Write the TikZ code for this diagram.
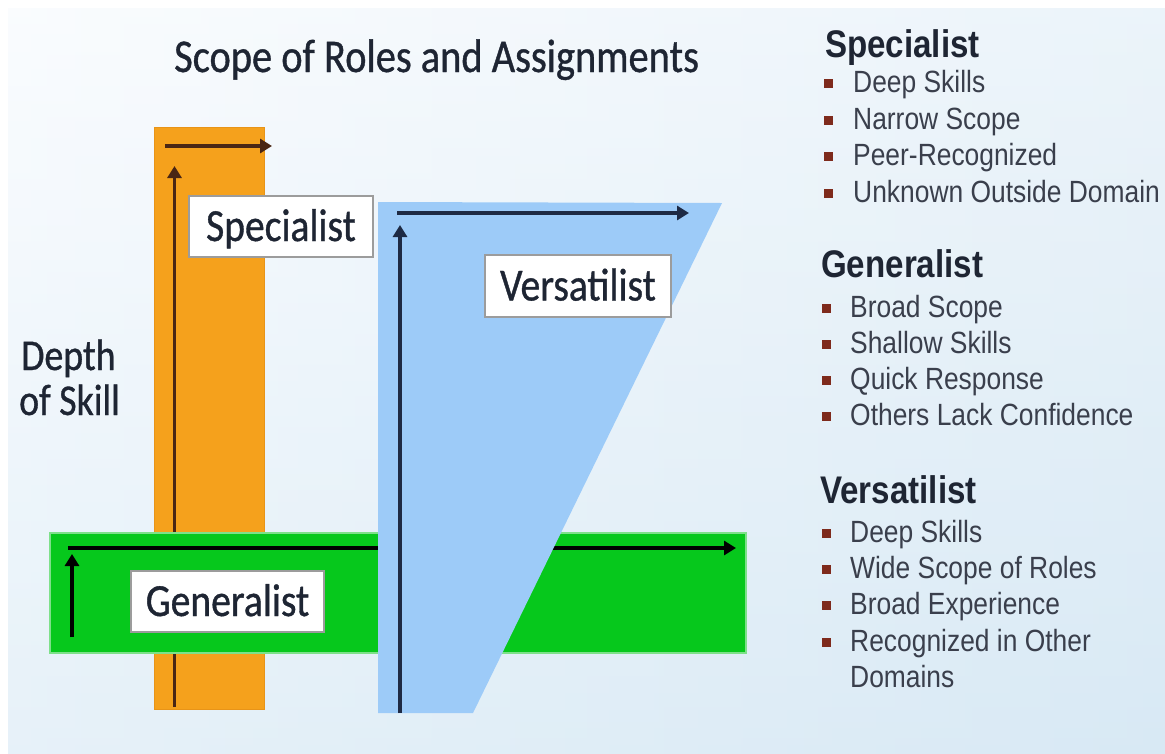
\documentclass[tikz,border=0pt]{standalone}
\usepackage{fontspec}
\usetikzlibrary{arrows.meta}
\newfontfamily\calib[FakeStretch=0.86,FakeBold=0.8]{Carlito}
\newfontfamily\arialn[FakeStretch=0.86]{Liberation Sans}
\definecolor{bgA}{HTML}{F6FAFE}
\definecolor{bgB}{HTML}{D4E7F3}
\definecolor{bgC}{HTML}{DCEBF6}
\definecolor{orangebar}{HTML}{F5A11C}
\definecolor{orangeedge}{HTML}{E89418}
\definecolor{greenbar}{HTML}{06C81C}
\definecolor{greenedge}{HTML}{7EE08A}
\definecolor{bluebar}{HTML}{9DCBF8}
\definecolor{brownarrow}{HTML}{4A2614}
\definecolor{navyarrow}{HTML}{1E2A44}
\definecolor{titletext}{HTML}{1E2533}
\definecolor{itemtext}{HTML}{3A3F4C}
\definecolor{bulletred}{HTML}{7E2A1C}
\definecolor{boxedge}{HTML}{9C9C9C}
\tikzset{
  axisarrow/.style={line width=3.2pt,-{Triangle[length=12pt,width=14pt]}},
  labelbox/.style={draw=boxedge,line width=2.5pt,fill=white,rectangle,inner sep=0pt,
     font=\calib\fontsize{46}{50}\selectfont,text=titletext,text height=29pt,text depth=0pt},
  plainlabel/.style={anchor=base west,inner sep=0pt,font=\calib\fontsize{45}{50}\selectfont,text=titletext},
  heading/.style={anchor=base west,inner sep=0pt,font=\arialn\bfseries\fontsize{38.5}{42}\selectfont,text=titletext},
  item/.style={anchor=base west,inner sep=0pt,font=\arialn\fontsize{30.7}{34}\selectfont,text=itemtext},
  bulletsq/.style={fill=bulletred,minimum size=9pt,inner sep=0pt,rectangle}
}
\begin{document}
\begin{tikzpicture}[x=1pt,y=-1pt]
\useasboundingbox (0,0) rectangle (1165,753);
% background
\fill[white] (0,0) rectangle (1165,753);
\shade[left color=bgA,right color=bgC] (8,8) rectangle (1165,753);
\shade[top color=white,bottom color=bgB,opacity=0.45] (8,8) rectangle (1165,753);
% title
\node[plainlabel,font=\calib\fontsize{47}{50}\selectfont] (title) at (174,72) {Scope of Roles and Assignments};
% depth of skill
\node[plainlabel,font=\calib\fontsize{44}{50}\selectfont] (depth) at (21,370) {Depth};
\node[plainlabel,font=\calib\fontsize{44}{50}\selectfont] (ofskill) at (19,415) {of Skill};
% orange bar
\node[draw=orangeedge,line width=1pt,fill=orangebar,minimum width=110pt,minimum height=582pt,inner sep=0pt] (orange) at (209,418) {};
\coordinate (oh1) at (165,146);
\coordinate (oh2) at (272,146);
\coordinate (ov1) at (174.5,707);
\coordinate (ov2) at (174.5,166);
\draw[axisarrow,brownarrow] (oh1) -- (oh2);
\draw[axisarrow,brownarrow] (ov1) -- (ov2);
% green bar
\node[draw=greenedge,line width=2pt,fill=greenbar,minimum width=696pt,minimum height=120pt,inner sep=0pt] (green) at (398,593) {};
\coordinate (gh1) at (68,548);
\coordinate (gh2) at (736,548);
\coordinate (gv1) at (72,637);
\coordinate (gv2) at (72,554);
\draw[axisarrow,black] (gh1) -- (gh2);
\draw[axisarrow,black] (gv1) -- (gv2);
% blue trapezoid
\coordinate (b1) at (378,202);
\coordinate (b2) at (722,203);
\coordinate (b3) at (473,713);
\coordinate (b4) at (378,713);
\fill[bluebar] (b1) -- (b2) -- (b3) -- (b4) -- cycle;
\coordinate (bh1) at (397,213);
\coordinate (bh2) at (689,213);
\coordinate (bv1) at (400,713);
\coordinate (bv2) at (400,225);
\draw[axisarrow,navyarrow] (bh1) -- (bh2);
\draw[axisarrow,navyarrow] (bv1) -- (bv2);
% label boxes
\node[labelbox,minimum width=184pt,minimum height=61pt] (spec) at (281,226.5) {Specialist};
\node[labelbox,minimum width=186pt,minimum height=62pt] (vers) at (578,286) {Versatilist};
\node[labelbox,minimum width=193pt,minimum height=61pt] (gen) at (227.5,601.5) {Generalist};
% right column
\node[heading] (hspec) at (825,57) {Specialist};
\node[bulletsq] (s1b) at (828,83) {};
\node[item] (s1) at (853,92) {Deep Skills};
\node[bulletsq] (s2b) at (828,120) {};
\node[item] (s2) at (853,129) {Narrow Scope};
\node[bulletsq] (s3b) at (828,156) {};
\node[item] (s3) at (853,165) {Peer-Recognized};
\node[bulletsq] (s4b) at (828,193) {};
\node[item] (s4) at (853,202) {Unknown Outside Domain};
\node[heading] (hgen) at (821,277) {Generalist};
\node[bulletsq] (g1b) at (826,308) {};
\node[item] (g1) at (850,317) {Broad Scope};
\node[bulletsq] (g2b) at (826,344) {};
\node[item] (g2) at (850,353) {Shallow Skills};
\node[bulletsq] (g3b) at (826,380) {};
\node[item] (g3) at (850,389) {Quick Response};
\node[bulletsq] (g4b) at (826,416) {};
\node[item] (g4) at (850,425) {Others Lack Confidence};
\node[heading] (hvers) at (820,503) {Versatilist};
\node[bulletsq] (v1b) at (826,533) {};
\node[item] (v1) at (850,542) {Deep Skills};
\node[bulletsq] (v2b) at (826,569) {};
\node[item] (v2) at (850,578) {Wide Scope of Roles};
\node[bulletsq] (v3b) at (826,605) {};
\node[item] (v3) at (850,614) {Broad Experience};
\node[bulletsq] (v4b) at (826,642) {};
\node[item] (v4) at (850,651) {Recognized in Other};
\node[item] (v5) at (850,687) {Domains};
\end{tikzpicture}
\end{document}
